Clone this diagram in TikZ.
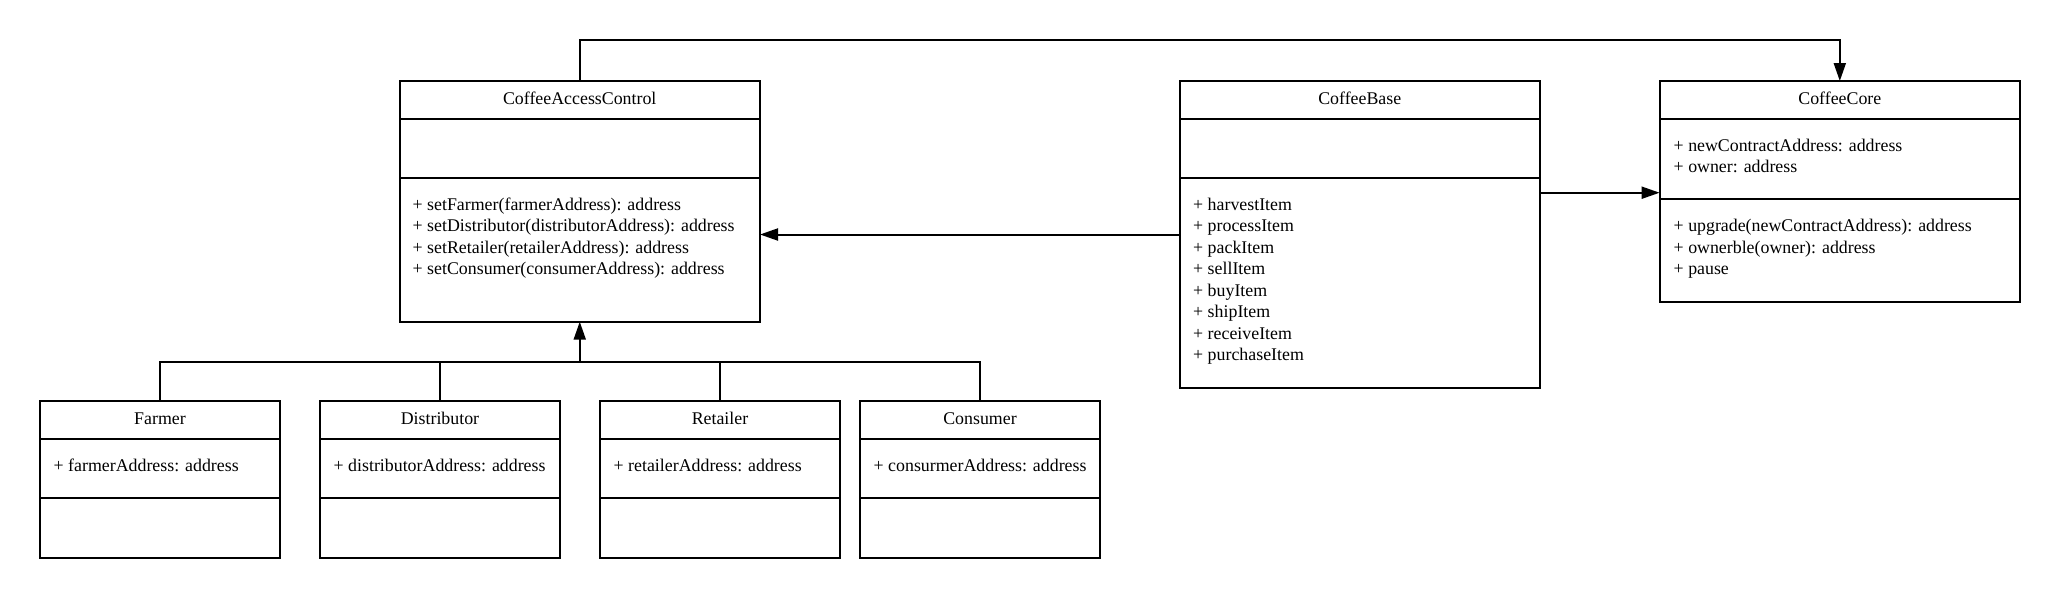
\documentclass[tikz,border=0pt]{standalone}
\usepackage{fontspec}
\setmainfont{Liberation Serif}
\usetikzlibrary{arrows.meta}
\begin{document}
\begin{tikzpicture}[x=1pt,y=-1pt,
  font=\fontsize{17.85}{21.4}\selectfont,
  cell/.style={draw, line width=2pt, inner sep=0pt, outer sep=0pt, anchor=north west},
  below/.style={draw, line width=2pt, inner sep=0pt, outer sep=0pt, anchor=north},
  ttl/.style={anchor=base, inner sep=0pt},
  txt/.style={anchor=base west, inner sep=0pt},
  conn/.style={line width=2pt},
  arr/.style={line width=2pt, -{Triangle[length=18pt,width=12pt]}}]
\fill[white] (0,0) rectangle (2060,598);
\useasboundingbox (0,0) rectangle (2060,598);

% CoffeeAccessControl
\node[cell, minimum width=360.5pt, minimum height=38pt] (cacT) at (399.5,81) {};
\node[below, minimum width=360.5pt, minimum height=58.7pt] (cacA) at (cacT.south) {};
\node[below, minimum width=360.5pt, minimum height=144pt] (cacM) at (cacA.south) {};
\node[ttl] (cacN) at ([yshift=-23pt]cacT.north) {CoffeeAccessControl};
\node[txt] (cacm1) at (412.5,210) {+ setFarmer(farmerAddress): address};
\node[txt] (cacm2) at (412.5,231.5) {+ setDistributor(distributorAddress): address};
\node[txt] (cacm3) at (412.5,253) {+ setRetailer(retailerAddress): address};
\node[txt] (cacm4) at (412.5,274.5) {+ setConsumer(consumerAddress): address};

% CoffeeBase
\node[cell, minimum width=359.5pt, minimum height=38pt] (baseT) at (1180,81) {};
\node[below, minimum width=359.5pt, minimum height=58.7pt] (baseA) at (baseT.south) {};
\node[below, minimum width=359.5pt, minimum height=210pt] (baseM) at (baseA.south) {};
\node[ttl] (baseN) at ([yshift=-23pt]baseT.north) {CoffeeBase};
\foreach \t [count=\i from 0] in {harvestItem,processItem,packItem,sellItem,buyItem,shipItem,receiveItem,purchaseItem}
  \node[txt] (basem\i) at (1193,210+21.5*\i) {+ \t};

% CoffeeCore
\node[cell, minimum width=360.4pt, minimum height=38pt] (coreT) at (1659.6,81) {};
\node[below, minimum width=360.4pt, minimum height=80pt] (coreA) at (coreT.south) {};
\node[below, minimum width=360.4pt, minimum height=103pt] (coreM) at (coreA.south) {};
\node[ttl] (coreN) at ([yshift=-23pt]coreT.north) {CoffeeCore};
\node[txt] (corea1) at (1673.5,151.2) {+ newContractAddress: address};
\node[txt] (corea2) at (1673.5,172.4) {+ owner: address};
\node[txt] (corem1) at (1673.5,231.8) {+ upgrade(newContractAddress): address};
\node[txt] (corem2) at (1673.5,253.3) {+ ownerble(owner): address};
\node[txt] (corem3) at (1673.5,274.7) {+ pause};

% bottom classes
\foreach \n/\x/\title/\attr in {far/40/Farmer/farmerAddress,dis/320/Distributor/distributorAddress,ret/600/Retailer/retailerAddress,con/860/Consumer/consurmerAddress}{
  \node[cell, minimum width=240pt, minimum height=38pt] (\n T) at (\x,401) {};
  \node[below, minimum width=240pt, minimum height=58.7pt] (\n A) at (\n T.south) {};
  \node[below, minimum width=240pt, minimum height=60pt] (\n M) at (\n A.south) {};
  \node[ttl] (\n N) at ([yshift=-23pt]\n T.north) {\title};
  \node[txt] (\n a) at (\x+13.5,471.6) {+ \attr: address};
}

% connectors
\coordinate (topbar) at (0,40);
\draw[arr] (cacT.north) -- (cacT.north |- topbar) -| (coreT.north);
\coordinate (midbar) at (0,234.5);
\draw[arr] (baseM.west |- midbar) -- (cacM.east |- midbar);
\coordinate (corebar) at (0,192.7);
\draw[arr] (baseM.east |- corebar) -- (coreA.west |- corebar);
\coordinate (bus) at (cacM.south |- 0,361.7);
\draw[arr] (bus) -- (cacM.south);
\draw[conn] (farT.north) |- (bus) -| (conT.north);
\draw[conn] (disT.north) -- (disT.north |- bus);
\draw[conn] (retT.north) -- (retT.north |- bus);
\end{tikzpicture}
\end{document}
